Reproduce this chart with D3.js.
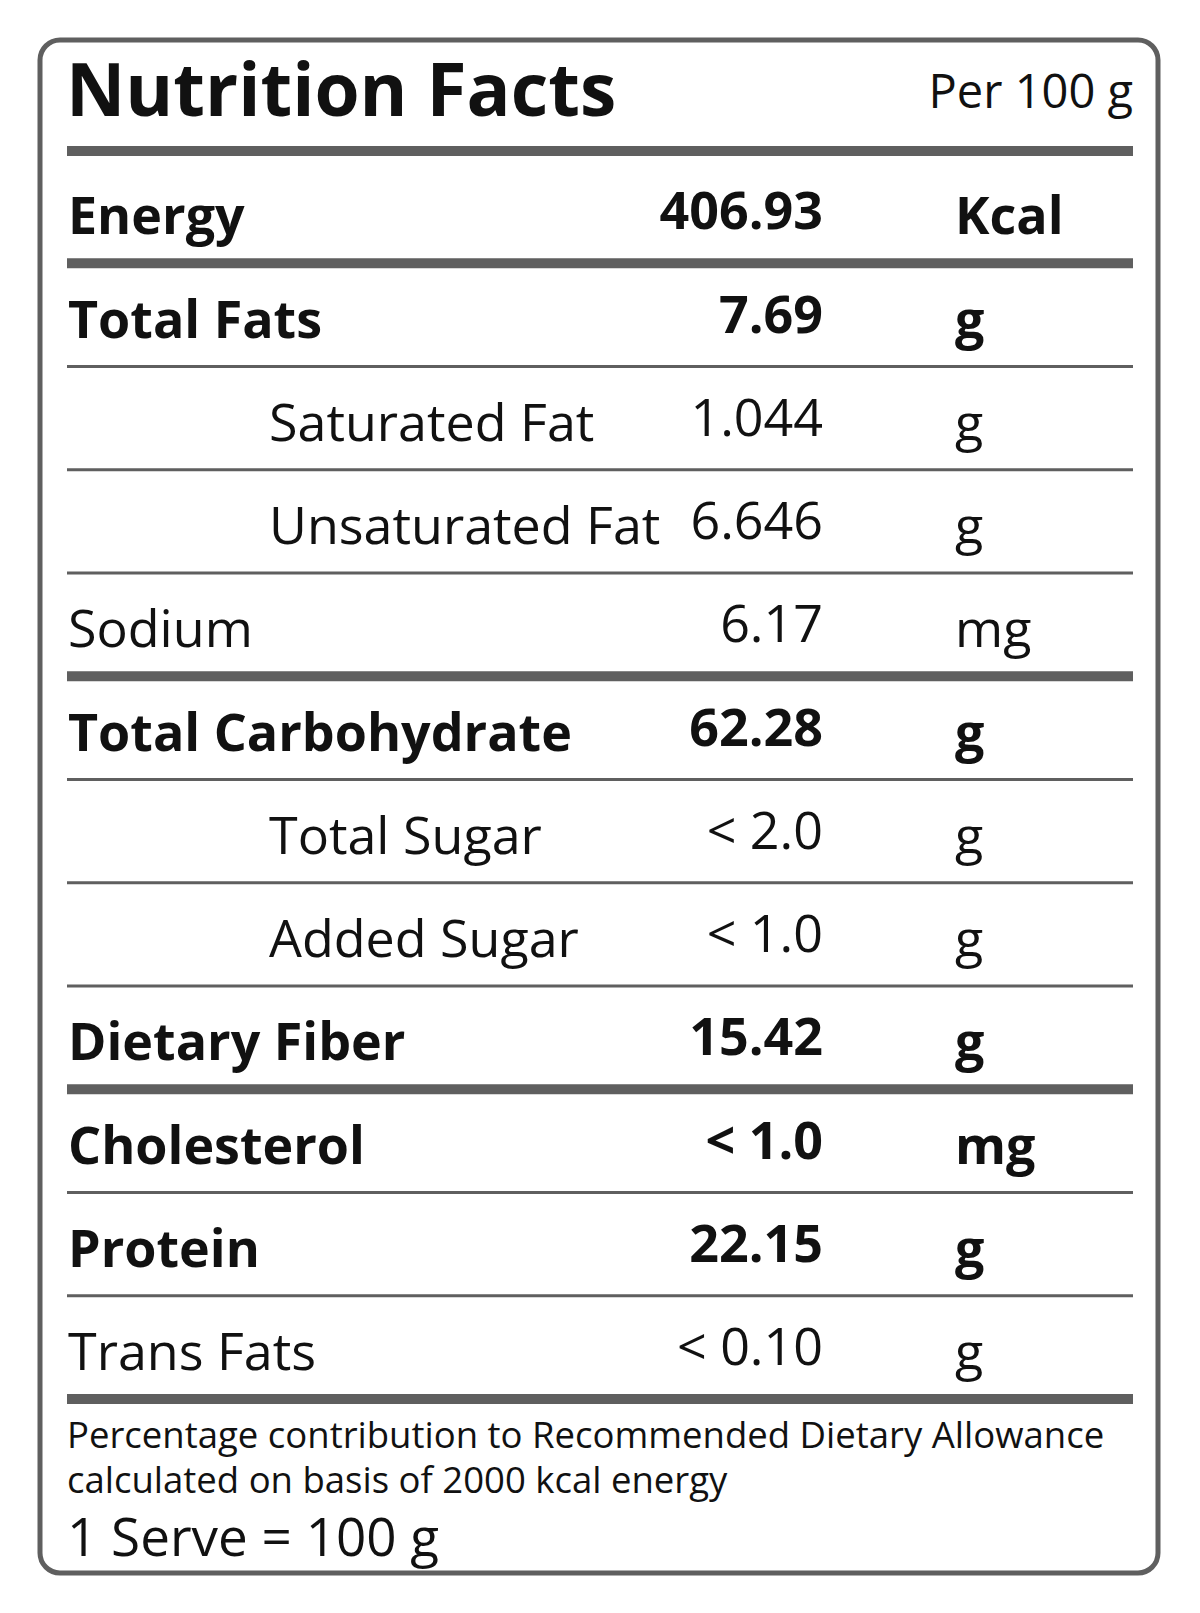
<!DOCTYPE html>
<html><head><meta charset="utf-8">
<script src="https://cdn.jsdelivr.net/npm/d3@7"></script>
<style>body{margin:0;background:#fff}</style>
</head><body><svg id="chart"></svg>
<script>
const width = 1200
const height = 1613
const labels = ["Energy", "Total Fats", "Saturated Fat", "Unsaturated Fat", "Sodium", "Total Carbohydrate", "Total Sugar", "Added Sugar", "Dietary Fiber", "Cholesterol", "Protein", "Trans Fats"]
const values = ["406.93", "7.69", "1.044", "6.646", "6.17", "62.28", "< 2.0", "< 1.0", "15.42", "< 1.0", "22.15", "< 0.10"]
const units = ["Kcal", "g", "g", "g", "mg", "g", "g", "g", "g", "mg", "g", "g"]
const bold = [1, 1, 0, 0, 0, 1, 0, 0, 1, 1, 1, 0]
const indent = [0, 0, 1, 1, 0, 0, 1, 1, 0, 0, 0, 0]
// weight of the rule under each row
const ruleThick = [1, 0, 0, 0, 1, 0, 0, 0, 1, 0, 0, 1]
const footnote = ["Percentage contribution to Recommended Dietary Allowance", "calculated on basis of 2000 kcal energy"]

const font = "'Open Sans', sans-serif"
const dark = "#111"
const grey = "#5f5f5f"

const svg = d3.select("#chart").attr("width", width).attr("height", height)

svg.append("rect")
    .attr("x", 40).attr("y", 40)
    .attr("width", 1118).attr("height", 1533)
    .attr("rx", 20)
    .style("fill", "#fff").style("stroke", grey).style("stroke-width", 5)

svg.append("text")
    .attr("x", 66).attr("y", 116)
    .style("font-family", font).style("font-weight", 700).style("font-size", "73px")
    .style("fill", dark).text("Nutrition Facts")

svg.append("text")
    .attr("x", 1133).attr("y", 108).attr("text-anchor", "end")
    .style("font-family", font).style("font-size", "47px")
    .style("fill", dark).text("Per 100 g")

// top rule
svg.append("rect").attr("x", 67).attr("y", 146).attr("width", 1066).attr("height", 10).style("fill", grey)

const y = d3.scaleBand().domain(d3.range(labels.length)).range([160, 1399]).paddingInner(0)

const rows = svg.selectAll("g.row").data(labels).enter().append("g").attr("class", "row")
    .attr("transform", (d, i) => `translate(0, ${y(i) + y.bandwidth()})`)

rows.append("rect")
    .attr("x", 67).attr("width", 1066)
    .attr("y", (d, i) => ruleThick[i] ? -5 : -1.5)
    .attr("height", (d, i) => ruleThick[i] ? 10 : 3)
    .style("fill", grey)

rows.append("text")
    .attr("x", (d, i) => indent[i] ? 269 : 68).attr("y", -29)
    .style("font-family", font).style("font-size", "52px")
    .style("font-weight", (d, i) => bold[i] ? 700 : 400)
    .style("fill", dark).text(d => d)

rows.append("text")
    .attr("x", 823).attr("y", -34).attr("text-anchor", "end")
    .style("font-family", font).style("font-size", "52px")
    .style("font-weight", (d, i) => bold[i] ? 700 : 400)
    .style("fill", dark).text((d, i) => values[i])

rows.append("text")
    .attr("x", 955).attr("y", -29)
    .style("font-family", font).style("font-size", "52px")
    .style("font-weight", (d, i) => bold[i] ? 700 : 400)
    .style("fill", dark).text((d, i) => units[i])

svg.selectAll("text.foot").data(footnote).enter().append("text")
    .attr("class", "foot")
    .attr("x", 67).attr("y", (d, i) => 1448 + i * 45)
    .style("font-family", font).style("font-size", "36.5px")
    .style("fill", dark).text(d => d)

svg.append("text")
    .attr("x", 67).attr("y", 1556)
    .style("font-family", font).style("font-size", "53px")
    .style("fill", dark).text("1 Serve = 100 g")
</script>
</body></html>
